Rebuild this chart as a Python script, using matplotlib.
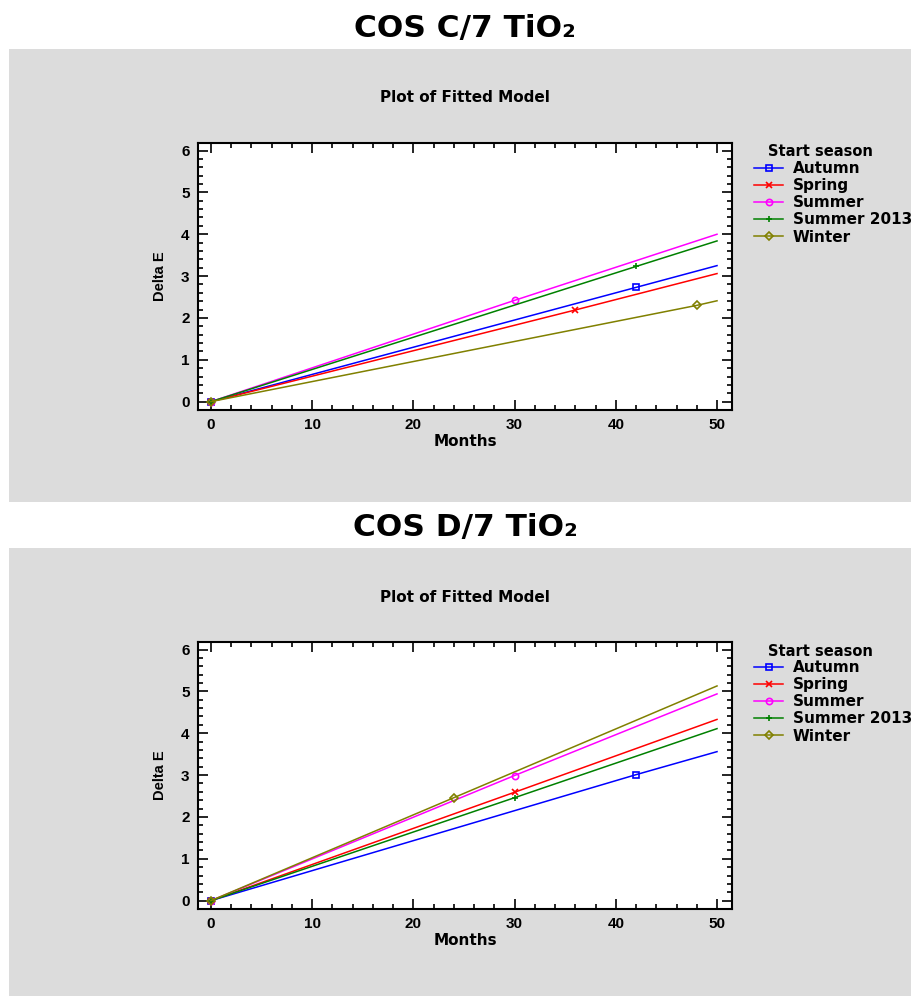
import matplotlib
matplotlib.use("Agg")
import matplotlib.pyplot as plt
from matplotlib.patches import Rectangle

W, H = 912, 996

seasons = ["Autumn", "Spring", "Summer", "Summer 2013", "Winter"]
colors = ["#0000FF", "#FF0000", "#FF00FF", "#008000", "#808000"]
markers = ["s", "x", "o", "+", "D"]

# panel C/7: month of the marked point, fitted Delta E there, fitted Delta E at 50 months
c7_mark_x = [42, 36, 30, 42, 48]
c7_mark_y = [2.73, 2.19, 2.42, 3.23, 2.30]
c7_end_y = [3.25, 3.06, 4.00, 3.84, 2.41]

# panel D/7
d7_mark_x = [42, 30, 30, 30, 24]
d7_mark_y = [3.01, 2.59, 2.99, 2.46, 2.46]
d7_end_y = [3.56, 4.33, 4.94, 4.11, 5.13]

x_end = 50

plt.rcParams["font.family"] = ["Liberation Sans", "DejaVu Sans"]
plt.rcParams["font.weight"] = "bold"
WIDE = ["DejaVu Sans"]   # the original labels are set in a wide bold face

fig = plt.figure(figsize=(W / 100, H / 100), dpi=100)


def fx(px):
    return px / W


def fy(py):
    return 1 - py / H


panels = [
    ("COS C/7 TiO\u2082", 0, c7_mark_x, c7_mark_y, c7_end_y),
    ("COS D/7 TiO\u2082", 499, d7_mark_x, d7_mark_y, d7_end_y),
]

for title, off, mx, my, ey in panels:
    # grey backdrop behind each plot
    fig.patches.append(Rectangle((fx(9), fy(502 + off)), fx(912 - 9), 453 / H,
                                 transform=fig.transFigure, facecolor="#DCDCDC",
                                 edgecolor="none", zorder=-5))
    fig.text(fx(465), fy(28 + off), title, ha="center", va="center",
             fontsize=22.5, fontweight="bold", family=WIDE)
    fig.text(fx(465), fy(98 + off), "Plot of Fitted Model", ha="center",
             va="center", fontsize=11, fontweight="bold", family=WIDE)

    ax = fig.add_axes([fx(198), fy(410 + off), fx(732 - 198), (410 - 143) / H])
    ax.set_zorder(2)
    for s, c, m, xm, ym, ye in zip(seasons, colors, markers, mx, my, ey):
        ax.plot([0, xm, x_end], [0, ym, ye], color=c, lw=1.1, marker=m,
                markevery=[0, 1], ms=5 if m in "x+" else 4.5,
                mfc="none", mec=c, mew=1.2, label=s)

    ax.set_xlim(-1.28, 51.48)
    ax.set_ylim(-0.2, 6.18)
    ax.set_xticks(range(0, 51, 10))
    ax.set_yticks(range(0, 7))
    ax.set_xticks(range(0, 51, 2), minor=True)
    ax.set_yticks([i / 5 for i in range(0, 31)], minor=True)
    ax.tick_params(which="both", direction="in", top=True, right=True, width=1.2)
    ax.tick_params(which="major", length=7.2, labelsize=11)
    ax.tick_params(which="minor", length=3.6)
    ax.tick_params(axis="x", pad=5.5)
    ax.tick_params(axis="y", pad=6)
    for lab in ax.get_xticklabels() + ax.get_yticklabels():
        lab.set_fontweight("bold")
    for sp in ax.spines.values():
        sp.set_linewidth(1.5)
    ax.set_xlabel("Months", fontsize=11, fontweight="bold", family=WIDE,
                  labelpad=2)
    ax.set_ylabel("Delta E", fontsize=10.5, fontweight="bold", labelpad=10)

    fig.text(fx(768), fy(152 + off), "Start season", ha="left", va="center",
             fontsize=10.5, fontweight="bold", family=WIDE)
    leg = ax.legend(loc="upper left", bbox_to_anchor=(fx(754), fy(161 + off)),
                    bbox_transform=fig.transFigure, frameon=False,
                    prop={"family": WIDE, "weight": "bold", "size": 11},
                    handlelength=1.9, handletextpad=0.65, labelspacing=0.14,
                    borderaxespad=0, borderpad=0)

fig.savefig("out.png", dpi=100)
